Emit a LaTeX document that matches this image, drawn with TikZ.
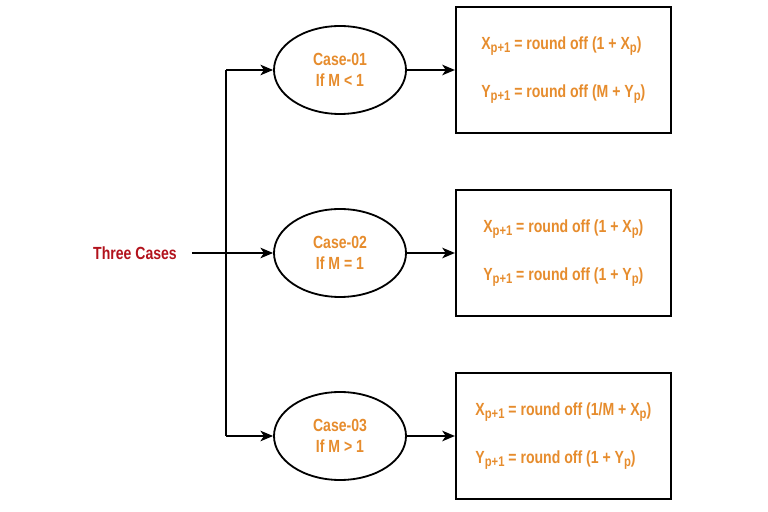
\documentclass[tikz,border=0pt]{standalone}
\usepackage{fontspec}
\newfontfamily\diagfont[FakeStretch=0.8]{Liberation Sans}
\usepackage{tikz}
\usetikzlibrary{%
  arrows.meta,%
  shapes,% wg. ellipse
  positioning% wg. " of "
}
\definecolor{caseorange}{RGB}{230,140,45}
\definecolor{casered}{RGB}{178,18,28}
\newcommand{\idx}[1]{\raisebox{-0.35ex}{\fontsize{10}{10}\selectfont #1}}

\begin{document}
\begin{tikzpicture}
  [
  font=\diagfont\bfseries\fontsize{12.5}{14.5}\selectfont,
  line width=1.3pt,
  draw=black, >={Stealth[length=9pt,width=7.5pt,inset=2.5pt]},
  startnode/.style={inner xsep=10pt, text=casered},
  casenode/.style={ellipse, draw=black, inner sep=0pt, minimum width=3.3cm, minimum height=2.2cm, align=center, text=caseorange},
  rulenode/.style={rectangle, draw=black, minimum width=5.375cm, minimum height=3.15cm, align=left, text=caseorange, font=\diagfont\bfseries\fontsize{12.5}{34}\selectfont},
  ]

\useasboundingbox (0,0) rectangle (19.2,-12.8);

\node[startnode] (cases) at (3.375,-6.325) {Three Cases};
\coordinate (fork) at (5.65,-6.325);

\node[casenode] (case1) at (8.5,-1.75) {Case-01\\If M < 1};
\node[casenode] (case2) at (8.5,-6.325) {Case-02\\If M = 1};
\node[casenode] (case3) at (8.5,-10.9) {Case-03\\If M > 1};

\node[rulenode, right=1.2cm of case1] (rule1) {X\idx{p+1} = round off (1 + X\idx{p})\\Y\idx{p+1} = round off (M + Y\idx{p})};
\node[rulenode, right=1.2cm of case2] (rule2) {X\idx{p+1} = round off (1 + X\idx{p})\\Y\idx{p+1} = round off (1 + Y\idx{p})};
\node[rulenode, right=1.2cm of case3] (rule3) {X\idx{p+1} = round off (1/M + X\idx{p})\\Y\idx{p+1} = round off (1 + Y\idx{p})};

\draw[->] (cases) -- (case2);
\draw (case1 -| fork) -- (case3 -| fork);
\draw[->] (case1 -| fork) -- (case1);
\draw[->] (case3 -| fork) -- (case3);

\draw[->] (case1) -- (rule1);
\draw[->] (case2) -- (rule2);
\draw[->] (case3) -- (rule3);
\end{tikzpicture}
\end{document}
